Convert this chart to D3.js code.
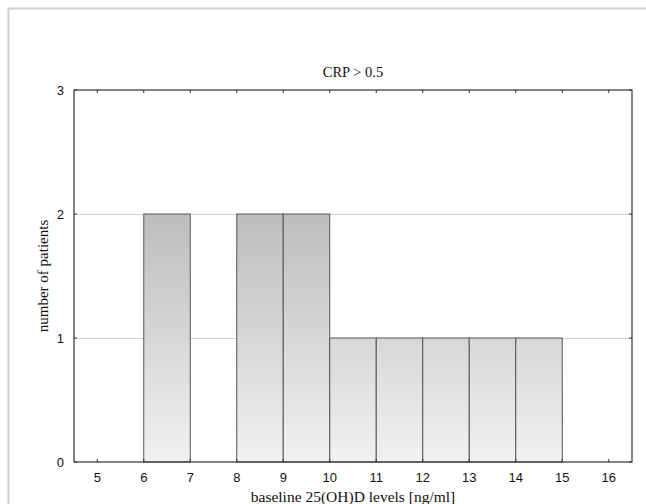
<!DOCTYPE html>
<html>
<head>
<meta charset="utf-8">
<script src="https://cdn.jsdelivr.net/npm/d3@7"></script>
<style>
  body { margin: 0; background: #fff; }
  svg { display: block; }
</style>
</head>
<body>
<svg id="chart" width="646" height="504"></svg>
<script>
// histogram bins (left edge, right edge) and counts
const binStarts = [6, 8, 9, 10, 11, 12, 13, 14]
const binEnds = [7, 9, 10, 11, 12, 13, 14, 15]
const counts = [2, 2, 2, 1, 1, 1, 1, 1]
const xTicks = [5, 6, 7, 8, 9, 10, 11, 12, 13, 14, 15, 16]
const yTicks = [0, 1, 2, 3]

const title = "CRP > 0.5"
const xTitle = "baseline 25(OH)D levels [ng/ml]"
const yTitle = "number of patients"

const svg = d3.select("#chart")
const margin = { left: 74, right: 14, top: 90, bottom: 42 }
const width = 646 - margin.left - margin.right
const height = 504 - margin.top - margin.bottom

const x = d3.scaleLinear().domain([4.5, 16.5]).range([0, width])
const y = d3.scaleLinear().domain([0, 3]).range([height, 0])

// outer panel border (left and top only visible)
svg.append("line")
  .attr("x1", 8.5).attr("x2", 8.5).attr("y1", 8).attr("y2", 504)
  .attr("stroke", "#cfcfcf").attr("stroke-width", 2)
svg.append("line")
  .attr("x1", 8).attr("x2", 646).attr("y1", 8.5).attr("y2", 8.5)
  .attr("stroke", "#cfcfcf").attr("stroke-width", 2)

const defs = svg.append("defs")
const grad = defs.append("linearGradient")
  .attr("id", "barFill")
  .attr("gradientUnits", "userSpaceOnUse")
  .attr("x1", 0).attr("x2", 0)
  .attr("y1", y(2)).attr("y2", y(0))
grad.append("stop").attr("offset", "0%").attr("stop-color", "#bdbdbd")
grad.append("stop").attr("offset", "100%").attr("stop-color", "#f1f1f1")

const g = svg.append("g")
  .attr("transform", `translate(${margin.left},${margin.top})`)

// gridlines
g.selectAll(".grid")
  .data(yTicks.filter(d => d > 0 && d < 3))
  .enter()
  .append("line")
  .attr("class", "grid")
  .attr("x1", 0).attr("x2", width)
  .attr("y1", d => Math.round(y(d)) + 0.5)
  .attr("y2", d => Math.round(y(d)) + 0.5)
  .attr("stroke", "#d4d4d4")

// bars
g.selectAll(".bar")
  .data(counts)
  .enter()
  .append("rect")
  .attr("class", "bar")
  .attr("x", (d, i) => x(binStarts[i]))
  .attr("y", d => y(d))
  .attr("width", (d, i) => x(binEnds[i]) - x(binStarts[i]))
  .attr("height", d => y(0) - y(d))
  .attr("fill", "url(#barFill)")
  .attr("stroke", "#555")
  .attr("stroke-width", 1)

// frame
g.append("rect")
  .attr("x", 0).attr("y", 0)
  .attr("width", width).attr("height", height)
  .attr("fill", "none")
  .attr("stroke", "#333")
  .attr("stroke-width", 1.2)

// inward tick marks
g.selectAll(".tickTop")
  .data(xTicks)
  .enter()
  .append("line")
  .attr("x1", d => x(d)).attr("x2", d => x(d))
  .attr("y1", 0).attr("y2", 3)
  .attr("stroke", "#333")
g.selectAll(".tickBottom")
  .data(xTicks)
  .enter()
  .append("line")
  .attr("x1", d => x(d)).attr("x2", d => x(d))
  .attr("y1", height).attr("y2", height - 3)
  .attr("stroke", "#333")
g.selectAll(".tickRight")
  .data(yTicks)
  .enter()
  .append("line")
  .attr("x1", width).attr("x2", width - 3)
  .attr("y1", d => y(d)).attr("y2", d => y(d))
  .attr("stroke", "#333")
g.selectAll(".tickLeft")
  .data(yTicks)
  .enter()
  .append("line")
  .attr("x1", 0).attr("x2", 3)
  .attr("y1", d => y(d)).attr("y2", d => y(d))
  .attr("stroke", "#333")

// tick labels
g.selectAll(".xLabel")
  .data(xTicks)
  .enter()
  .append("text")
  .attr("x", d => x(d))
  .attr("y", height + 20)
  .attr("text-anchor", "middle")
  .style("font-family", "'Liberation Sans', Arial, sans-serif")
  .style("font-size", "13px")
  .attr("fill", "#111")
  .text(d => d)

g.selectAll(".yLabel")
  .data(yTicks)
  .enter()
  .append("text")
  .attr("x", -10)
  .attr("y", d => y(d) + 5)
  .attr("text-anchor", "end")
  .style("font-family", "'Liberation Sans', Arial, sans-serif")
  .style("font-size", "13px")
  .attr("fill", "#111")
  .text(d => d)

// titles
g.append("text")
  .attr("x", width / 2)
  .attr("y", -13)
  .attr("text-anchor", "middle")
  .style("font-family", "'Liberation Serif', 'Times New Roman', serif")
  .style("font-size", "14.5px")
  .attr("fill", "#111")
  .text(title)

g.append("text")
  .attr("x", width / 2)
  .attr("y", height + 40)
  .attr("text-anchor", "middle")
  .style("font-family", "'Liberation Serif', 'Times New Roman', serif")
  .style("font-size", "15.5px")
  .attr("fill", "#111")
  .text(xTitle)

g.append("text")
  .attr("transform", `translate(-26,${height / 2}) rotate(-90)`)
  .attr("text-anchor", "middle")
  .style("font-family", "'Liberation Serif', 'Times New Roman', serif")
  .style("font-size", "15px")
  .attr("fill", "#111")
  .text(yTitle)
</script>
</body>
</html>
